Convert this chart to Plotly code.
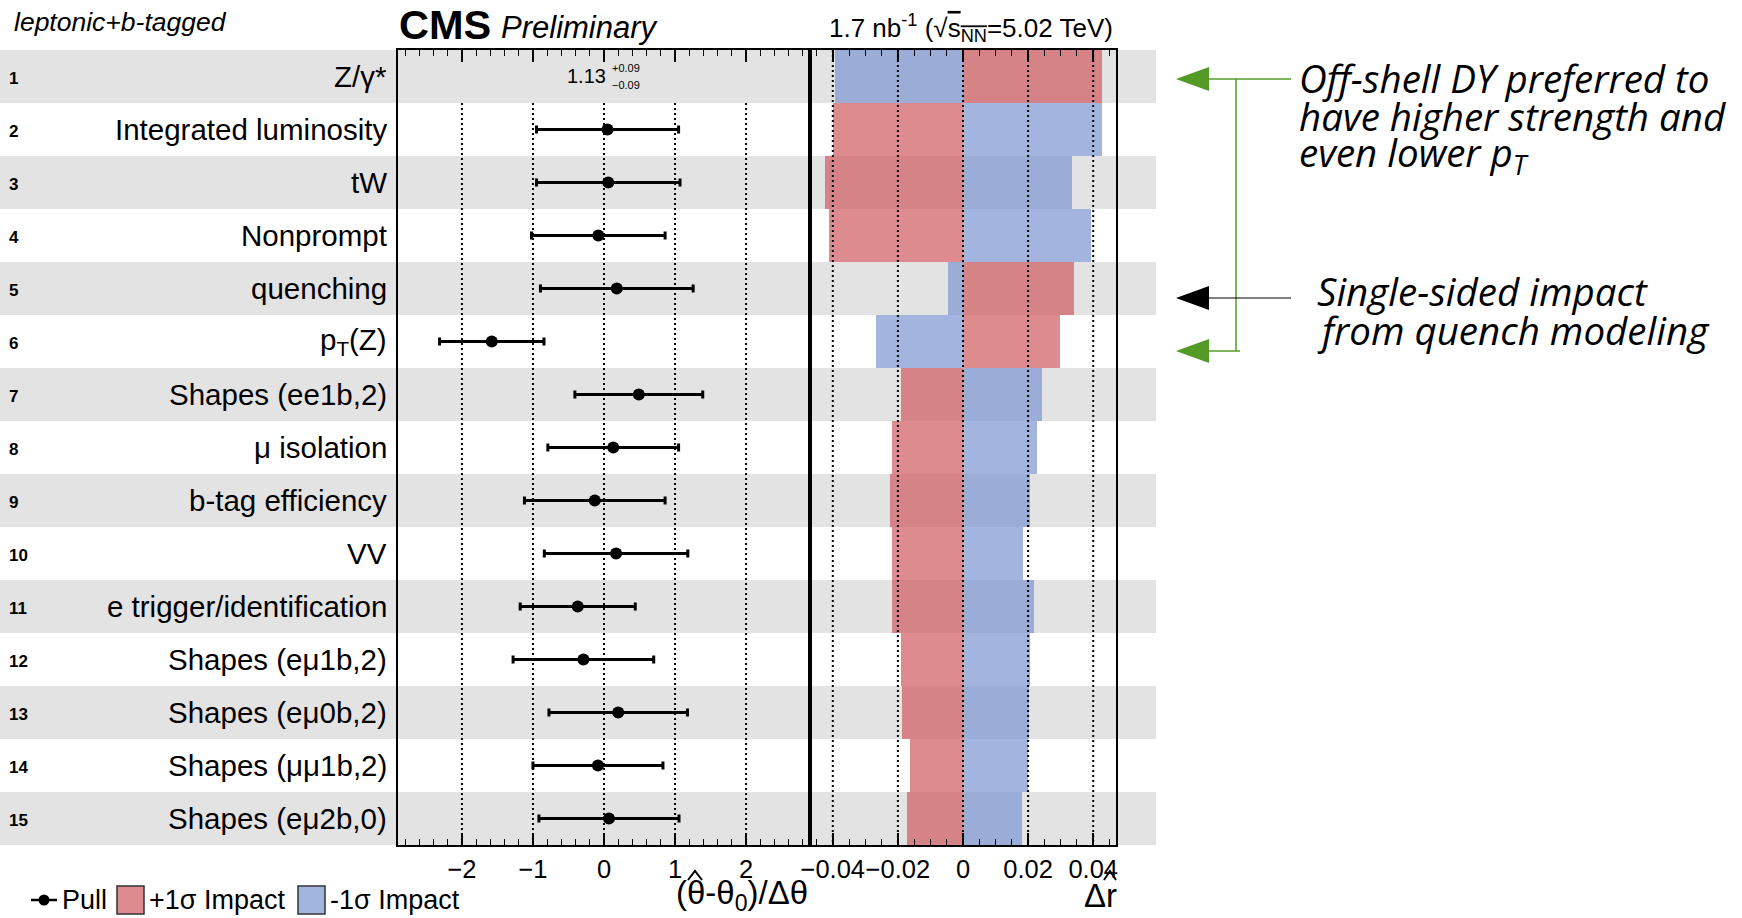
import plotly.graph_objects as go

W, H = 1742, 918

# Nuisance parameters, ranked by impact (row 1 is the Z/gamma* signal strength)
labels = [
    "Z/γ*", "Integrated luminosity", "tW", "Nonprompt", "quenching",
    "p<sub>T</sub>(Z)", "Shapes (ee1b,2)", "μ isolation", "b-tag efficiency",
    "VV", "e trigger/identification", "Shapes (eμ1b,2)", "Shapes (eμ0b,2)",
    "Shapes (μμ1b,2)", "Shapes (eμ2b,0)",
]
pulls = [None, 0.05, 0.06, -0.08, 0.18, -1.58, 0.49, 0.13, -0.13, 0.17,
         -0.37, -0.29, 0.20, -0.085, 0.07]
pull_errs = [None, 1.00, 1.01, 0.94, 1.075, 0.735, 0.90, 0.92, 0.99, 1.01,
             0.81, 0.99, 0.975, 0.915, 0.986]
impact_up = [0.0428, -0.0399, -0.0424, -0.0411, 0.0341, 0.0297, -0.0191,
             -0.0219, -0.0223, -0.0218, -0.0218, -0.0191, -0.0186, -0.0163,
             -0.0171]
impact_down = [-0.0394, 0.0428, 0.0336, 0.0394, -0.0045, -0.0268, 0.0244,
               0.0228, 0.0206, 0.0185, 0.0217, 0.0206, 0.0204, 0.0201, 0.0181]
poi_value, poi_err_up, poi_err_down = 1.13, 0.09, 0.09

pull_ticks = [-2, -1, 0, 1, 2]
impact_ticks = [-0.04, -0.02, 0, 0.02, 0.04]
impact_ticktext = ["−0.04", "−0.02", "0", "0.02", "0.04"]

rows = list(range(1, len(labels) + 1))

FONT = "Liberation Sans, Arial, Helvetica, sans-serif"
NOTE_FONT = "Open Sans, Noto Sans, sans-serif"
RED = "rgba(209,92,98,0.71)"
BLUE = "rgba(125,151,210,0.71)"
GREEN = "rgb(84,154,38)"
BAND = "#e3e3e3"


def px(x):
    return x / W


def py(y):
    return 1 - y / H


PULL_DOM = [px(398), px(810)]
IMP_DOM = [px(810), px(1116)]
Y_DOM = [py(845), py(50)]

fig = go.Figure()

# impact bars
fig.add_trace(go.Bar(
    y=rows, x=impact_up, base=0, orientation="h", width=1.0,
    marker=dict(color=RED, line=dict(width=0)),
    xaxis="x2", yaxis="y", showlegend=False, hoverinfo="x+y",
))
fig.add_trace(go.Bar(
    y=rows, x=impact_down, base=0, orientation="h", width=1.0,
    marker=dict(color=BLUE, line=dict(width=0)),
    xaxis="x2", yaxis="y", showlegend=False, hoverinfo="x+y",
))

# pulls
fig.add_trace(go.Scatter(
    x=pulls[1:], y=rows[1:], mode="markers",
    marker=dict(color="black", size=12),
    error_x=dict(type="data", array=pull_errs[1:], symmetric=True,
                 color="black", thickness=3, width=4),
    xaxis="x", yaxis="y", showlegend=False,
))

shapes = []
# alternating row bands
for r in rows:
    if r % 2 == 1:
        shapes.append(dict(type="rect", xref="paper", yref="y",
                           x0=0, x1=px(1156), y0=r - 0.5, y1=r + 0.5,
                           fillcolor=BAND, line=dict(width=0), layer="below"))
# dotted reference lines
for v in pull_ticks:
    shapes.append(dict(type="line", xref="x", yref="y", x0=v, x1=v,
                       y0=1.5, y1=len(rows) + 0.5,
                       line=dict(color="black", width=2, dash="2px,3px"),
                       layer="below"))
for v in impact_ticks:
    shapes.append(dict(type="line", xref="x2", yref="y", x0=v, x1=v,
                       y0=0.5, y1=len(rows) + 0.5,
                       line=dict(color="black", width=2, dash="2px,3px"),
                       layer="above"))


def polyline(points, color, width):
    d = "M " + " L ".join(f"{px(x)} {py(y)}" for x, y in points)
    return dict(type="path", xref="paper", yref="paper", path=d,
                line=dict(color=color, width=width))


# hats over the axis-title symbols
shapes.append(polyline([(688, 880), (695, 871), (702, 880)], "black", 2))
shapes.append(polyline([(1104, 880), (1110, 871), (1116, 880)], "black", 2))

# legend symbols
shapes.append(dict(type="line", xref="paper", yref="paper",
                   x0=px(31), x1=px(57), y0=py(900), y1=py(900),
                   line=dict(color="black", width=2.5)))
shapes.append(dict(type="circle", xref="paper", yref="paper",
                   x0=px(38.5), x1=px(49.5), y0=py(894.5), y1=py(905.5),
                   fillcolor="black", line=dict(width=0)))
shapes.append(dict(type="rect", xref="paper", yref="paper",
                   x0=px(117), x1=px(144), y0=py(914), y1=py(886),
                   fillcolor="rgb(222,139,143)", line=dict(color="#333", width=1.5)))
shapes.append(dict(type="rect", xref="paper", yref="paper",
                   x0=px(298), x1=px(325), y0=py(914), y1=py(886),
                   fillcolor="rgb(162,181,223)", line=dict(color="#333", width=1.5)))


# note arrows
def arrow_head(tip_x, tip_y, color):
    return dict(type="path", xref="paper", yref="paper",
                path=(f"M {px(tip_x)} {py(tip_y)} L {px(tip_x + 33)} {py(tip_y - 12)} "
                      f"L {px(tip_x + 33)} {py(tip_y + 12)} Z"),
                fillcolor=color, line=dict(width=0))


for ty in (79, 351):
    shapes.append(arrow_head(1176, ty, GREEN))
shapes.append(arrow_head(1176, 298, "black"))
shapes.append(dict(type="line", xref="paper", yref="paper",
                   x0=px(1205), x1=px(1291), y0=py(79), y1=py(79),
                   line=dict(color=GREEN, width=1.5)))
shapes.append(dict(type="line", xref="paper", yref="paper",
                   x0=px(1205), x1=px(1240), y0=py(351), y1=py(351),
                   line=dict(color=GREEN, width=1.5)))
shapes.append(dict(type="line", xref="paper", yref="paper",
                   x0=px(1236), x1=px(1236), y0=py(79), y1=py(351),
                   line=dict(color=GREEN, width=1.5)))
shapes.append(dict(type="line", xref="paper", yref="paper",
                   x0=px(1205), x1=px(1291), y0=py(298), y1=py(298),
                   line=dict(color="black", width=1.2)))

ann = []


def text(x, y, s, size, anchor="left", family=FONT, yanchor="middle", **kw):
    ann.append(dict(x=px(x), y=py(y), xref="paper", yref="paper", text=s,
                    showarrow=False, xanchor=anchor, yanchor=yanchor,
                    font=dict(family=family, size=size, color="black"), **kw))


# row names and numbers
for r, lab in zip(rows, labels):
    ann.append(dict(x=px(389), y=r, xref="paper", yref="y", text=lab,
                    showarrow=False, xanchor="right", yanchor="middle",
                    font=dict(family=FONT, size=29.5, color="black")))
    ann.append(dict(x=px(7), y=r, xref="paper", yref="y", text=f"<b>{r}</b>",
                    showarrow=False, xanchor="left", yanchor="middle", yshift=-2,
                    font=dict(family=FONT, size=17, color="black")))

# fitted signal strength in row 1
ann.append(dict(x=0.06, y=1, xref="x", yref="y", text=f"{poi_value:.2f}",
                showarrow=False, xanchor="right", yanchor="middle",
                font=dict(family=FONT, size=20, color="black")))
ann.append(dict(x=0.08, y=1, xref="x", yref="y", text=f"+{poi_err_up:.2f}",
                showarrow=False, xanchor="left", yanchor="middle", yshift=8,
                font=dict(family=FONT, size=11, color="black")))
ann.append(dict(x=0.08, y=1, xref="x", yref="y", text=f"−{poi_err_down:.2f}",
                showarrow=False, xanchor="left", yanchor="middle", yshift=-9,
                font=dict(family=FONT, size=11, color="black")))

# header
text(12, 22, "<i>leptonic+b-tagged</i>", 26.5)
text(397, 24, "<b>CMS</b>", 41.5)
text(499, 27, "<i>Preliminary</i>", 31)
text(1115, 28, "1.7 nb<sup>-1</sup> (√<span style='text-decoration:overline'>s<sub>NN</sub></span>=5.02 TeV)",
     26, anchor="right")

# axis titles
text(674, 895, "(θ-θ<sub>0</sub>)/Δθ", 33)
text(1082, 895, "Δr", 33)

# legend text
text(60, 900, "Pull", 27)
text(147, 900, "+1σ Impact", 27)
text(328, 900, "-1σ Impact", 27)

# notes
NOTE = 38.5
text(1297, 78, "<i>Off-shell DY preferred to</i>", NOTE, family=NOTE_FONT)
text(1297, 116, "<i>have higher strength and</i>", NOTE, family=NOTE_FONT)
text(1297, 154, "<i>even lower p<sub>T</sub></i>", NOTE, family=NOTE_FONT)
text(1315, 291, "<i>Single-sided impact</i>", NOTE, family=NOTE_FONT)
text(1315, 330, "<i>from quench modeling</i>", NOTE, family=NOTE_FONT)

axis_common = dict(
    showline=True, linecolor="black", linewidth=2, mirror="ticks",
    ticks="inside", ticklen=12, tickwidth=1.5, tickcolor="black",
    showgrid=False, zeroline=False, anchor="y", tickangle=0, automargin=False,
    tickfont=dict(family=FONT, size=25.5, color="black"),
)

fig.update_layout(
    width=W, height=H, autosize=False,
    margin=dict(l=0, r=0, t=0, b=0, pad=0, autoexpand=False),
    paper_bgcolor="white", plot_bgcolor="rgba(0,0,0,0)",
    barmode="overlay", bargap=0, showlegend=False,
    xaxis=dict(domain=PULL_DOM, range=[-2.9, 2.9], tickvals=pull_ticks,
               minor=dict(dtick=0.2, tick0=0, ticks="inside", ticklen=6,
                          tickwidth=1.2, tickcolor="black"),
               **axis_common),
    xaxis2=dict(domain=IMP_DOM, range=[-0.047, 0.047], tickvals=impact_ticks,
                ticktext=impact_ticktext,
                minor=dict(dtick=0.005, tick0=0, ticks="inside", ticklen=6,
                           tickwidth=1.2, tickcolor="black"),
                **axis_common),
    yaxis=dict(domain=Y_DOM, range=[len(rows) + 0.5, 0.5], anchor="x",
               showline=True, linecolor="black", linewidth=2, mirror="all",
               ticks="", showticklabels=False, showgrid=False, zeroline=False,
               automargin=False),
    shapes=shapes,
    annotations=ann,
)

fig.write_html("out.html")
